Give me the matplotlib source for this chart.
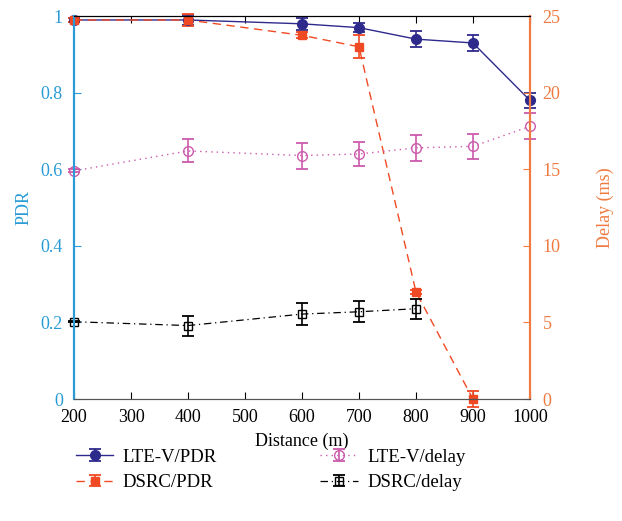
import matplotlib.pyplot as plt
from matplotlib.container import ErrorbarContainer
from matplotlib.legend_handler import HandlerErrorbar
import numpy as np

plt.rcParams['font.family'] = ['Liberation Serif', 'DejaVu Serif']
plt.rcParams['font.size'] = 13

distance = [200, 400, 600, 700, 800, 900, 1000]
lte_pdr = [0.99, 0.99, 0.98, 0.97, 0.94, 0.93, 0.78]
lte_pdr_err = [0.005, 0.012, 0.015, 0.012, 0.02, 0.02, 0.02]
dsrc_dist = [200, 400, 600, 700, 800, 900]
dsrc_pdr = [0.99, 0.99, 0.95, 0.92, 0.28, 0.0]
dsrc_pdr_err = [0.005, 0.015, 0.008, 0.03, 0.005, 0.02]
lte_delay = [14.9, 16.2, 15.9, 16.0, 16.4, 16.5, 17.8]
lte_delay_err = [0.1, 0.75, 0.85, 0.8, 0.85, 0.8, 0.85]
dsrc_delay_dist = [200, 400, 600, 700, 800]
dsrc_delay = [5.05, 4.8, 5.55, 5.7, 5.9]
dsrc_delay_err = [0.05, 0.65, 0.7, 0.7, 0.65]

blue_axis = '#2a9bd6'
orange_axis = '#f07a40'
c_lte = '#2e2a8c'
c_dsrc = '#f04a24'
c_lte_d = '#cc5aad'

fig = plt.figure(figsize=(6.22, 5.21), dpi=100)
ax = fig.add_axes([0.119, 0.234, 0.733, 0.735])
ax2 = ax.twinx()


def no_clip(container):
    for art in container.get_children():
        art.set_clip_on(False)
    return container


h1 = no_clip(ax.errorbar(distance, lte_pdr, yerr=lte_pdr_err, color=c_lte, marker='o', ms=7,
                         lw=1.0, capsize=4, capthick=1.3, elinewidth=1.2, label='LTE-V/PDR'))
h2 = no_clip(ax.errorbar(dsrc_dist, dsrc_pdr, yerr=dsrc_pdr_err, color=c_dsrc, marker='s', ms=6,
                         lw=1.0, ls=(0, (6, 4)), capsize=4, capthick=1.3, elinewidth=1.2,
                         label='DSRC/PDR'))
h3 = no_clip(ax2.errorbar(distance, lte_delay, yerr=lte_delay_err, color=c_lte_d, marker='o', ms=7,
                          mfc='none', lw=1.0, ls=(0, (1, 3)), capsize=4, capthick=1.3,
                          elinewidth=1.2, label='LTE-V/delay'))
h4 = no_clip(ax2.errorbar(dsrc_delay_dist, dsrc_delay, yerr=dsrc_delay_err, color='black',
                          marker='s', ms=6, mfc='none', lw=0.9, ls=(0, (6, 3, 1, 3)), capsize=4,
                          capthick=1.3, elinewidth=1.2, label='DSRC/delay'))

ax.set_xlim(200, 1000)
ax.set_ylim(0, 1)
ax2.set_ylim(0, 25)
ax.set_xticks(np.arange(200, 1001, 100))
ax.set_yticks([0, 0.2, 0.4, 0.6, 0.8, 1.0])
ax.set_yticklabels(['0', '0.2', '0.4', '0.6', '0.8', '1'])
ax2.set_yticks([0, 5, 10, 15, 20, 25])

ax.set_xlabel('Distance (m)', labelpad=5)
ax.set_ylabel('PDR', color=blue_axis, labelpad=6)
ax2.set_ylabel('Delay (ms)', color=orange_axis, labelpad=26)

ax.tick_params(axis='x', direction='in', top=True, colors='black', pad=7, length=5)
ax.tick_params(axis='y', direction='in', colors=blue_axis, pad=8, length=5)
ax2.tick_params(axis='y', direction='in', colors=orange_axis, pad=9, length=5)
for a in (ax, ax2):
    a.spines['left'].set_color(blue_axis)
    a.spines['right'].set_color(orange_axis)
    a.spines['bottom'].set_color('#555555')
    a.spines['top'].set_color('black')
    a.spines['left'].set_linewidth(1.5)
    a.spines['right'].set_linewidth(1.5)

fig.legend(handles=[h1, h2, h3, h4], loc='lower left', bbox_to_anchor=(0.095, 0.025),
           ncol=2, frameon=False, columnspacing=5.5, handlelength=2.0, handletextpad=0.5,
           labelspacing=0.45, fontsize=13.5,
           handler_map={ErrorbarContainer: HandlerErrorbar(xerr_size=0.3, yerr_size=0.3)})

fig.savefig('out.png', dpi=100)
